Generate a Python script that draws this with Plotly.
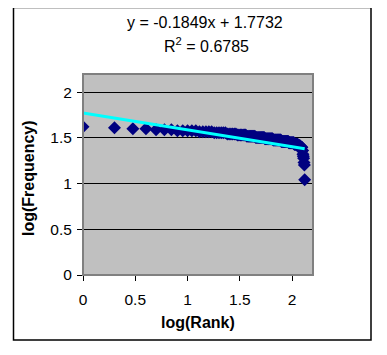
import numpy as np
import plotly.graph_objects as go

# Frequencies by rank (log10 of these are plotted)
freq_values = [42, 41, 40, 40, 39, 39, 39,
               38, 38, 38, 38, 38,
               37, 37, 37, 37, 37,
               36, 36, 36, 36, 36, 36,
               35, 35, 35, 35, 35, 35]
freq_values += [34] * 7 + [33] * 8 + [32] * 10 + [31] * 11 + [30] * 13
freq_values += [29] * 14 + [28] * 12 + [27] * 9 + [26] * 6 + [25] * 5
freq_values += [23, 23, 21, 20, 19, 17, 16, 11]

slope = -0.1849
intercept = 1.7732
r_squared = 0.6785

x_ticks = [0, 0.5, 1, 1.5, 2]
y_ticks = [0, 0.5, 1, 1.5, 2]

ranks = np.arange(1, len(freq_values) + 1)
log_rank = np.log10(ranks)
log_freq = np.log10(np.array(freq_values, dtype=float))

fig = go.Figure()
fig.add_trace(go.Scatter(
    x=log_rank, y=log_freq, mode="markers",
    marker=dict(symbol="diamond", size=10, color="#000080", line=dict(width=0)),
    showlegend=False, hoverinfo="skip"))
x_line = np.array([0, log_rank.max()])
fig.add_trace(go.Scatter(
    x=x_line, y=slope * x_line + intercept, mode="lines",
    line=dict(color="#00FFFF", width=3), showlegend=False, hoverinfo="skip"))

font = "Liberation Sans, Arial, sans-serif"
OFF = 8  # page body margin
W, H = 387 - OFF, 355 - OFF
L, R, T, B = 83 - OFF, 387 - 313, 74 - OFF, 355 - 275
pw = W - L - R
ph = H - T - B

def px(x):
    return (x - OFF - L) / pw

def py(y):
    return (H - B - (y - OFF)) / ph

fig.update_layout(
    width=W, height=H, autosize=False,
    margin=dict(l=L, r=R, t=T, b=B, pad=0),
    paper_bgcolor="white", plot_bgcolor="#C0C0C0",
    font=dict(family=font, size=15.5, color="black"),
    xaxis=dict(range=[0, 2.2], tickvals=x_ticks, ticktext=[str(t) for t in x_ticks],
               showgrid=False, zeroline=False, showline=True, linecolor="black",
               linewidth=1, ticks="outside", ticklen=5, tickcolor="black",
               ticklabelstandoff=5, tickfont=dict(size=15.5)),
    yaxis=dict(range=[0, 2.2], tickvals=y_ticks, ticktext=[str(t) for t in y_ticks],
               showgrid=True, gridcolor="black", gridwidth=1, zeroline=False,
               showline=True, linecolor="black", linewidth=1,
               ticks="outside", ticklen=5, tickcolor="black",
               ticklabelstandoff=2, tickfont=dict(size=15.5)),
    shapes=[
        dict(type="rect", xref="paper", yref="paper", x0=0, x1=1, y0=0, y1=1,
             line=dict(color="#808080", width=2), layer="above"),
        dict(type="rect", xref="paper", yref="paper",
             x0=px(13.5), x1=px(371), y0=py(340), y1=py(7.5),
             line=dict(color="black", width=1.5)),
    ],
    annotations=[
        dict(xref="paper", yref="paper", x=px(205), y=py(23), showarrow=False,
             text=f"y = {slope}x + {intercept}", font=dict(size=16),
             xanchor="center", yanchor="middle"),
        dict(xref="paper", yref="paper", x=px(206), y=py(45), showarrow=False,
             text=f"R<sup>2</sup> = {r_squared}", font=dict(size=16),
             xanchor="center", yanchor="middle"),
        dict(xref="paper", yref="paper", x=px(198), y=py(322), showarrow=False,
             text="<b>log(Rank)</b>", font=dict(size=16),
             xanchor="center", yanchor="middle"),
        dict(xref="paper", yref="paper", x=px(28), y=py(178), showarrow=False,
             text="<b>log(Frequency)</b>", font=dict(size=16), textangle=-90,
             xanchor="center", yanchor="middle"),
    ],
)

fig.write_html("out.html")
